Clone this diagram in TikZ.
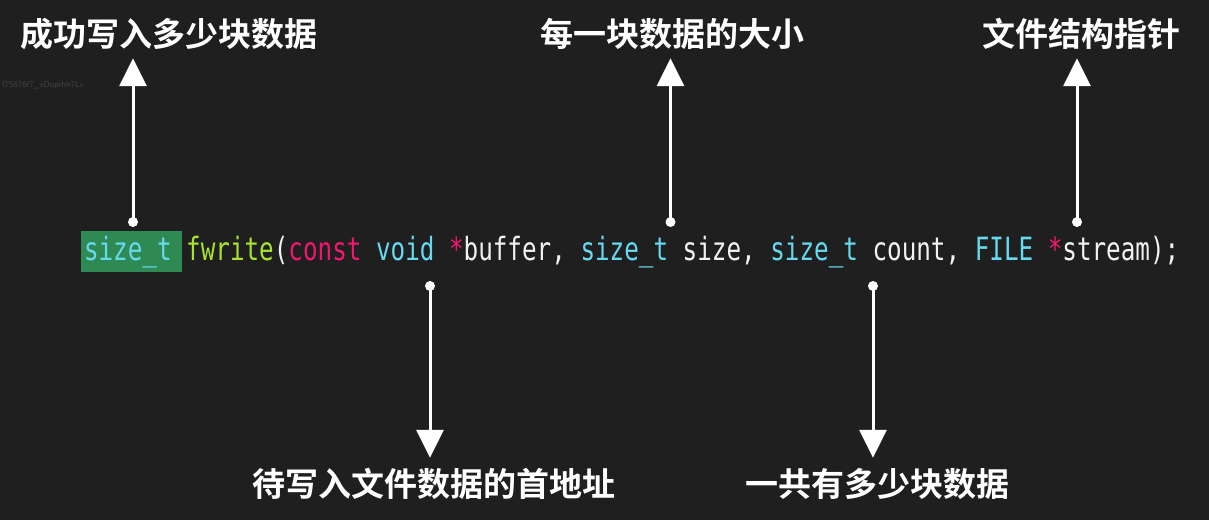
\documentclass[tikz,border=0pt]{standalone}
\usepackage{fontspec}
\usetikzlibrary{arrows.meta}
\setmonofont[FakeStretch=0.758]{DejaVu Sans Mono}
\newfontfamily\cjk{Noto Sans CJK SC}[BoldFont={Noto Sans CJK SC Bold}]
\definecolor{bg}{HTML}{1F1F1F}
\definecolor{hlgreen}{HTML}{2E8A52}
\definecolor{cy}{HTML}{66D9EF}
\definecolor{gr}{HTML}{A6E22E}
\definecolor{pk}{HTML}{F0186E}
\definecolor{wh}{HTML}{F2F2F2}
\definecolor{wm}{HTML}{444444}
\begin{document}
\begin{tikzpicture}[x=1pt,y=-1pt,
  lab/.style={inner sep=0pt, text=white, font=\cjk\bfseries\fontsize{33}{33}\selectfont, text height=29pt, text depth=4pt},
  arr/.style={draw=white, line width=3pt, -{Triangle[width=27pt,length=28pt]}},
  dot/.style={fill=white, circle, inner sep=0pt, minimum size=10pt}]
\fill[bg] (0,0) rectangle (1209,520);
\useasboundingbox (0,0) rectangle (1209,520);
% watermark
\node[anchor=west, inner sep=0pt, text=wm, font=\sffamily\fontsize{8.5}{8.5}\selectfont] (wmk) at (2,85) {f75676f7\_vDuprhh7Lx};
% highlight box
\node[fill=hlgreen, inner sep=0pt, minimum width=101pt, minimum height=40.7pt] (hl) at (131.2,251.3) {};
% code line
\node[anchor=base west, inner sep=0pt, font=\ttfamily\fontsize{32}{32}\selectfont, text=wh] (code) at (83.8,260)
 {\textcolor{cy}{size\_t} \textcolor{gr}{fwrite}(\textcolor{pk}{const} \textcolor{cy}{void} \textcolor{pk}{*}buffer, \textcolor{cy}{size\_t} size, \textcolor{cy}{size\_t} count, \textcolor{cy}{FILE} \textcolor{pk}{*}stream);};
% labels
\node[lab, anchor=base] (l1) at (169,46.5) {成功写入多少块数据};
\node[lab, anchor=base] (l2) at (672,46.5) {每一块数据的大小};
\node[lab, anchor=base] (l3) at (1081,46.5) {文件结构指针};
\node[lab, anchor=base] (l4) at (434,496.5) {待写入文件数据的首地址};
\node[lab, anchor=base] (l5) at (877,496.5) {一共有多少块数据};
% dots
\node[dot] (d1) at (133,222) {};
\node[dot] (d2) at (670.5,222) {};
\node[dot] (d3) at (1077,222) {};
\node[dot] (d4) at (430,286) {};
\node[dot] (d5) at (873,286) {};
% arrows
\draw[arr, shorten >=7.5pt] (d1.center) -- (d1 |- l1.south);
\draw[arr, shorten >=7.5pt] (d2.center) -- (d2 |- l2.south);
\draw[arr, shorten >=7.5pt] (d3.center) -- (d3 |- l3.south);
\draw[arr, shorten >=9.5pt] (d4.center) -- (d4 |- l4.north);
\draw[arr, shorten >=9.5pt] (d5.center) -- (d5 |- l5.north);
\end{tikzpicture}
\end{document}
